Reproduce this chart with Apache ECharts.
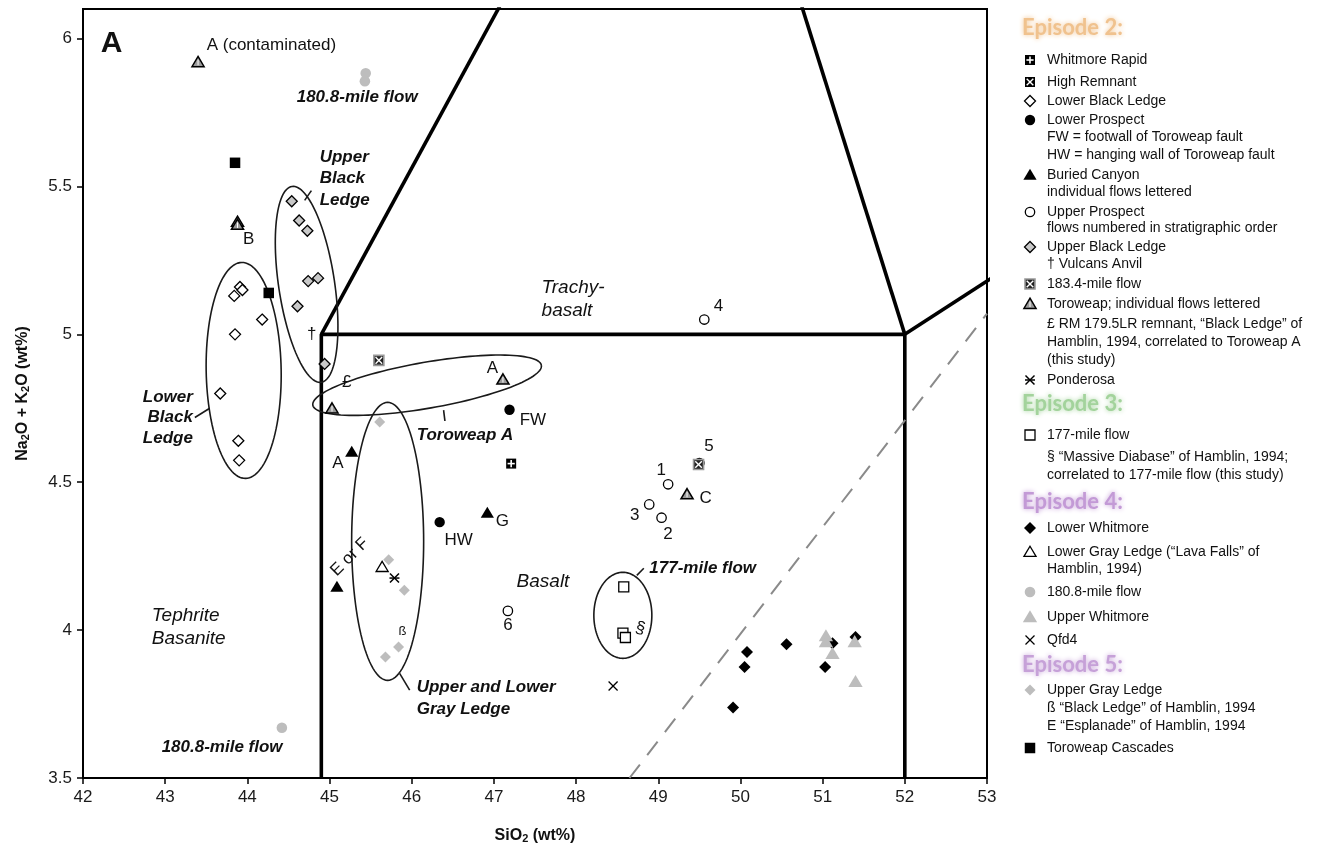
<!DOCTYPE html>
<html><head><meta charset="utf-8">
<script src="https://cdn.jsdelivr.net/npm/echarts@6/dist/echarts.min.js"></script>
<style>html,body{margin:0;padding:0;background:#fff}#c{width:1324px;height:857px}</style>
</head><body><div id="c"></div>
<script>
// ---------------- DATA (SiO2 wt%, Na2O+K2O wt%) ----------------
const xTicks = [42,43,44,45,46,47,48,49,50,51,52,53];
const yTicks = [3.5,4,4.5,5,5.5,6];

const whitmoreRapid   = [[47.21,4.563]];
const highRemnant     = [[49.49,4.56]];
const lowerBlackLedge = [[43.91,5.16],[43.94,5.15],[43.84,5.13],[44.18,5.05],[43.85,5.00],[43.67,4.80],[43.89,4.64],[43.90,4.574]];
const lowerProspect   = [[47.19,4.745],[46.34,4.365]];
const buriedCanyon    = [[45.27,4.602],[46.92,4.396],[45.09,4.146]];
const upperProspect   = [[49.12,4.493],[49.04,4.380],[48.89,4.425],[49.56,5.05],[49.50,4.565],[47.17,4.065]];
const upperBlackLedge = [[44.54,5.45],[44.63,5.385],[44.73,5.35],[44.74,5.18],[44.86,5.19],[44.61,5.095],[44.94,4.90]];
const mile1834        = [[45.60,4.912],[49.49,4.56]];
const toroweap        = [[43.40,5.92],[43.88,5.38],[43.88,5.37],[47.11,4.847],[45.03,4.749],[49.35,4.459]];
const ponderosa       = [[45.79,4.176]];
const mile177         = [[48.58,4.146],[48.57,3.99],[48.60,3.975]];
const lowerWhitmore   = [[50.08,3.926],[50.05,3.875],[49.91,3.738],[50.56,3.952],[51.03,3.875],[51.12,3.956],[51.40,3.977]];
const lowerGrayLedge  = [[45.64,4.213]];
const mile1808        = [[45.44,5.883],[45.43,5.856],[44.42,3.67]];
const upperWhitmore   = [[51.04,3.98],[51.04,3.96],[51.12,3.92],[51.39,3.96],[51.40,3.825]];
const qfd4            = [[48.45,3.811]];
const upperGrayLedge  = [[45.61,4.704],[45.72,4.238],[45.91,4.135],[45.84,3.943],[45.68,3.909]];
const toroweapCascades= [[43.85,5.58],[44.26,5.14]];

// TAS field boundaries (clipped by the axes)
const tasBasaltBox   = [[44.9,3.5],[44.9,5.0],[52,5.0],[52,3.5]];
const tasTrachyLeft  = [[44.9,5.0],[49.4,7.3]];
const tasTrachyRight = [[52,5.0],[49.4,7.3]];
const tasUpperRight  = [[52,5.0],[57,5.9]];
const alkalineLine   = [[48.65,3.5],[53,5.07]];

// ---------------- ANNOTATIONS (layout) ----------------
const ellipses = [
  {c:[43.955,4.878], a:37.5, b:108, ang:-1},
  {c:[44.721,5.169], a:28,   b:99,  ang:-8.5},
  {c:[46.187,4.828], a:116,  b:23,  ang:-9.9},
  {c:[45.707,4.300], a:36,   b:139, ang:0},
  {c:[48.569,4.050], a:29,   b:43,  ang:0}
];
const leaders = [
  [[43.361,4.719],[43.542,4.750]],
  [[44.697,5.453],[44.779,5.486]],
  [[46.388,4.744],[46.404,4.707]],
  [[45.853,3.854],[45.975,3.797]],
  [[48.739,4.185],[48.824,4.209]]
];
const RG = 'italic 19px "Liberation Sans", Arial, sans-serif';
const BI = 'italic bold 17px "Liberation Sans", Arial, sans-serif';
const PL = '17px "Liberation Sans", Arial, sans-serif';
const annots = [
  {t:'A', x:42.215, y:5.984, f:'bold 30px "Liberation Sans", Arial, sans-serif'},
  {t:'A (contaminated)', x:43.505, y:5.977, f:PL},
  {t:'Trachy-', x:47.58, y:5.156, f:RG},
  {t:'basalt', x:47.58, y:5.081, f:RG},
  {t:'Basalt', x:47.276, y:4.162, f:RG},
  {t:'Tephrite', x:42.836, y:4.050, f:RG},
  {t:'Basanite', x:42.836, y:3.972, f:RG},
  {t:'180.8-mile flow', x:44.60, y:5.801, f:BI},
  {t:'180.8-mile flow', x:42.957, y:3.604, f:BI},
  {t:'Upper', x:44.88, y:5.598, f:BI},
  {t:'Black', x:44.88, y:5.527, f:BI},
  {t:'Ledge', x:44.88, y:5.453, f:BI},
  {t:'Lower', x:43.337, y:4.787, f:BI, al:'right'},
  {t:'Black', x:43.337, y:4.719, f:BI, al:'right'},
  {t:'Ledge', x:43.337, y:4.648, f:BI, al:'right'},
  {t:'Toroweap A', x:46.06, y:4.659, f:BI},
  {t:'Upper and Lower', x:46.06, y:3.807, f:BI},
  {t:'Gray Ledge', x:46.06, y:3.732, f:BI},
  {t:'177-mile flow', x:48.891, y:4.209, f:BI},
  {t:'B', x:44.016, y:5.321, f:PL, al:'center'},
  {t:'†', x:44.782, y:5.0, f:PL, al:'center'},
  {t:'£', x:45.208, y:4.839, f:PL, al:'center'},
  {t:'A', x:46.981, y:4.884, f:PL, al:'center'},
  {t:'FW', x:47.475, y:4.709, f:PL, al:'center'},
  {t:'A', x:45.102, y:4.565, f:PL, al:'center'},
  {t:'HW', x:46.571, y:4.304, f:PL, al:'center'},
  {t:'G', x:47.102, y:4.368, f:PL, al:'center'},
  {t:'5', x:49.616, y:4.621, f:PL, al:'center'},
  {t:'1', x:49.036, y:4.540, f:PL, al:'center'},
  {t:'C', x:49.575, y:4.447, f:PL, al:'center'},
  {t:'3', x:48.712, y:4.388, f:PL, al:'center'},
  {t:'2', x:49.117, y:4.324, f:PL, al:'center'},
  {t:'6', x:47.170, y:4.016, f:PL, al:'center'},
  {t:'4', x:49.734, y:5.095, f:PL, al:'center'},
  {t:'§', x:48.781, y:4.006, f:PL, al:'center', rot:-15},
  {t:'ß', x:45.886, y:3.994, f:'13px "Liberation Sans", Arial, sans-serif', al:'center'},
  {t:'E or F', x:45.245, y:4.247, f:PL, al:'center', rot:45}
];

// ---------------- MARKERS ----------------
const K = '#000', G = '#bdbdbd';
function dia(x,y,s){const h=s/2;return [[x,y-h],[x+h,y],[x,y+h],[x-h,y]];}
function tri(x,y,s){const h=s/2;return [[x,y-h*1.05],[x+h*1.1,y+h*0.8],[x-h*1.1,y+h*0.8]];}
function sq(x,y,s){return {x:x-s/2,y:y-s/2,width:s,height:s};}
function ln(x1,y1,x2,y2,c,w){return {type:'line',shape:{x1,y1,x2,y2},style:{stroke:c,lineWidth:w}};}
function marker(t,x,y){
  switch(t){
    case 'circleB': return {type:'circle',shape:{cx:x,cy:y,r:5.2},style:{fill:K}};
    case 'circleW': return {type:'circle',shape:{cx:x,cy:y,r:4.7},style:{fill:'#fff',stroke:K,lineWidth:1.3}};
    case 'circleG': return {type:'circle',shape:{cx:x,cy:y,r:5.3},style:{fill:G}};
    case 'diamondW': return {type:'polygon',shape:{points:dia(x,y,11)},style:{fill:'#fff',stroke:K,lineWidth:1.3}};
    case 'diamondG': return {type:'polygon',shape:{points:dia(x,y,11)},style:{fill:'#c8c8c8',stroke:K,lineWidth:1.3}};
    case 'diamondB': return {type:'polygon',shape:{points:dia(x,y,12)},style:{fill:K}};
    case 'diamondL': return {type:'polygon',shape:{points:dia(x,y,11)},style:{fill:G}};
    case 'triB': return {type:'polygon',shape:{points:tri(x,y,12)},style:{fill:K}};
    case 'triW': return {type:'polygon',shape:{points:tri(x,y,11)},style:{fill:'#fff',stroke:K,lineWidth:1.3}};
    case 'triG': return {type:'polygon',shape:{points:tri(x,y,13)},style:{fill:G}};
    case 'triT': return {type:'group',children:[
        {type:'polygon',shape:{points:tri(x,y,11)},style:{fill:'#9a9a9a',stroke:K,lineWidth:1.5}},
        ln(x,y-2.5,x,y+3,'#fff',1)]};
    case 'sqB': return {type:'rect',shape:sq(x,y,10.5),style:{fill:K}};
    case 'sqW': return {type:'rect',shape:sq(x,y,10),style:{fill:'#fff',stroke:K,lineWidth:1.3}};
    case 'sqPlus': return {type:'group',children:[
        {type:'rect',shape:sq(x,y,10),style:{fill:K}},
        {type:'rect',shape:{x:x-3.6,y:y-0.8,width:7.2,height:1.6},style:{fill:'#fff'}},
        {type:'rect',shape:{x:x-0.8,y:y-3.6,width:1.6,height:7.2},style:{fill:'#fff'}}]};
    case 'sqX': return {type:'group',children:[
        {type:'rect',shape:sq(x,y,10),style:{fill:K}},
        ln(x-3.3,y-3.3,x+3.3,y+3.3,'#fff',1.4), ln(x-3.3,y+3.3,x+3.3,y-3.3,'#fff',1.4)]};
    case 'sqXG': return {type:'group',children:[
        {type:'rect',shape:sq(x,y,10),style:{fill:'#222',stroke:'#999',lineWidth:1.6}},
        ln(x-3.3,y-3.3,x+3.3,y+3.3,'#fff',1.4), ln(x-3.3,y+3.3,x+3.3,y-3.3,'#fff',1.4)]};
    case 'cross': return {type:'group',children:[
        ln(x-4.5,y-4.5,x+4.5,y+4.5,K,1.3), ln(x-4.5,y+4.5,x+4.5,y-4.5,K,1.3)]};
    case 'aster': return {type:'group',children:[
        ln(x-4.5,y-4.5,x+4.5,y+4.5,K,1.5), ln(x-4.5,y+4.5,x+4.5,y-4.5,K,1.5), ln(x-5,y,x+5,y,K,1.5)]};
  }
}

const groups = [
  ['Whitmore Rapid', whitmoreRapid, 'sqPlus'],
  ['High Remnant', highRemnant, 'sqX'],
  ['Lower Black Ledge', lowerBlackLedge, 'diamondW'],
  ['Lower Prospect', lowerProspect, 'circleB'],
  ['Buried Canyon', buriedCanyon, 'triB'],
  ['Upper Prospect', upperProspect, 'circleW'],
  ['Upper Black Ledge', upperBlackLedge, 'diamondG'],
  ['183.4-mile flow', mile1834, 'sqXG'],
  ['Toroweap', toroweap, 'triT'],
  ['Ponderosa', ponderosa, 'aster'],
  ['177-mile flow', mile177, 'sqW'],
  ['Lower Whitmore', lowerWhitmore, 'diamondB'],
  ['Lower Gray Ledge', lowerGrayLedge, 'triW'],
  ['180.8-mile flow', mile1808, 'circleG'],
  ['Upper Whitmore', upperWhitmore, 'triG'],
  ['Qfd4', qfd4, 'cross'],
  ['Upper Gray Ledge', upperGrayLedge, 'diamondL'],
  ['Toroweap Cascades', toroweapCascades, 'sqB']
];

// ---------------- LEGEND (graphic, pixel layout) ----------------
const LX = 1030, TX = 1047;
const LF = '14px "Liberation Sans", Arial, sans-serif';
const legendRows = [
  {h:'Episode 2:', c:'#f0c28e', y:28},
  {m:'sqPlus', t:'Whitmore Rapid', y:60},
  {m:'sqX', t:'High Remnant', y:82},
  {m:'diamondW', t:'Lower Black Ledge', y:101},
  {m:'circleB', t:'Lower Prospect', y:120},
  {t:'FW = footwall of Toroweap fault', y:137},
  {t:'HW = hanging wall of Toroweap fault', y:155},
  {m:'triB', t:'Buried Canyon', y:175},
  {t:'individual flows lettered', y:192},
  {m:'circleW', t:'Upper Prospect', y:212},
  {t:'flows numbered in stratigraphic order', y:228},
  {m:'diamondG', t:'Upper Black Ledge', y:247},
  {t:'† Vulcans Anvil', y:264},
  {m:'sqXG', t:'183.4-mile flow', y:284},
  {m:'triT', t:'Toroweap; individual flows lettered', y:304},
  {t:'£ RM 179.5LR remnant, \u201cBlack Ledge\u201d of', y:324},
  {t:'Hamblin, 1994, correlated to Toroweap A', y:342},
  {t:'(this study)', y:360},
  {m:'aster', t:'Ponderosa', y:380},
  {h:'Episode 3:', c:'#a3d39c', y:404},
  {m:'sqW', t:'177-mile flow', y:435},
  {t:'§ \u201cMassive Diabase\u201d of Hamblin, 1994;', y:457},
  {t:'correlated to 177-mile flow (this study)', y:475},
  {h:'Episode 4:', c:'#c39ad6', y:502},
  {m:'diamondB', t:'Lower Whitmore', y:528},
  {m:'triW', t:'Lower Gray Ledge (\u201cLava Falls\u201d of', y:552},
  {t:'Hamblin, 1994)', y:569},
  {m:'circleG', t:'180.8-mile flow', y:592},
  {m:'triG', t:'Upper Whitmore', y:617},
  {m:'cross', t:'Qfd4', y:640},
  {h:'Episode 5:', c:'#c6a1d8', y:665},
  {m:'diamondL', t:'Upper Gray Ledge', y:690},
  {t:'ß \u201cBlack Ledge\u201d of Hamblin, 1994', y:708},
  {t:'E \u201cEsplanade\u201d of Hamblin, 1994', y:726},
  {m:'sqB', t:'Toroweap Cascades', y:748}
];
const legendEls = [];
legendRows.forEach(r => {
  if (r.h) {
    legendEls.push({type:'text', x:LX-8, y:r.y, style:{text:r.h, font:'bold 22px Lato, "Open Sans", sans-serif',
      fill:r.c, textShadowColor:r.c, textShadowBlur:5, align:'left', verticalAlign:'middle', textAlign:'left', textVerticalAlign:'middle'}});
  } else {
    if (r.m) legendEls.push(marker(r.m, LX, r.y));
    legendEls.push({type:'text', x:TX, y:r.y, style:{text:r.t, font:LF, fill:'#111',
      align:'left', verticalAlign:'middle', textAlign:'left', textVerticalAlign:'middle'}});
  }
});

// ---------------- CHART ----------------
const chart = echarts.init(document.getElementById('c'), null, {renderer:'canvas'});
const lineS = (data, extra) => Object.assign({type:'line', data, symbol:'none', silent:true, clip:true,
  animation:false, lineStyle:{color:'#000', width:3.6}, z:2}, extra||{});

const series = [
  lineS(tasBasaltBox), lineS(tasTrachyLeft), lineS(tasTrachyRight), lineS(tasUpperRight),
  lineS(alkalineLine, {lineStyle:{color:'#8a8a8a', width:2, type:[17,12]}}),
  {type:'custom', silent:true, animation:false, z:3, data: ellipses.map(e=>e.c),
   renderItem:(p, api) => {
     const e = ellipses[p.dataIndex];
     const c = api.coord([api.value(0), api.value(1)]);
     const ph = e.ang*Math.PI/180, pts = [];
     for (let i=0;i<=120;i++){ const t=i/120*2*Math.PI;
       const u=e.a*Math.cos(t), v=e.b*Math.sin(t);
       pts.push([c[0]+u*Math.cos(ph)-v*Math.sin(ph), c[1]+u*Math.sin(ph)+v*Math.cos(ph)]); }
     return {type:'polyline', shape:{points:pts}, style:{fill:null, stroke:'#1a1a1a', lineWidth:1.6}};
   }},
  {type:'custom', silent:true, animation:false, z:3, data: leaders.map(l=>[l[0][0],l[0][1],l[1][0],l[1][1]]),
   renderItem:(p, api) => {
     const a = api.coord([api.value(0), api.value(1)]), b = api.coord([api.value(2), api.value(3)]);
     return ln(a[0],a[1],b[0],b[1],'#1a1a1a',1.6);
   }},
  {type:'custom', silent:true, animation:false, z:6, data: annots.map(a=>[a.x,a.y]),
   renderItem:(p, api) => {
     const a = annots[p.dataIndex];
     const c = api.coord([api.value(0), api.value(1)]);
     return {type:'text', x:c[0], y:c[1], rotation:(a.rot||0)*Math.PI/180,
       style:{text:a.t, font:a.f, fill:'#111', align:a.al||'left', verticalAlign:'middle',
              textAlign:a.al||'left', textVerticalAlign:'middle'}};
   }}
];
groups.forEach(g => {
  series.push({type:'custom', name:g[0], silent:true, animation:false, z:5, data:g[1],
    renderItem:(p, api) => { const c = api.coord([api.value(0), api.value(1)]); return marker(g[2], c[0], c[1]); }});
});

const axisCommon = {
  axisLine:{show:true, onZero:false, lineStyle:{color:'#000', width:2}},
  axisTick:{show:true, inside:false, length:6, lineStyle:{color:'#000', width:1.5}},
  splitLine:{show:false},
  axisLabel:{color:'#1a1a1a', fontSize:17, fontFamily:'"Liberation Sans", Arial, sans-serif', margin:11},
  nameLocation:'middle'
};
const rich = {
  a:{fontSize:16, fontWeight:'bold', fontFamily:'"Liberation Sans", Arial, sans-serif', color:'#111', lineHeight:20, verticalAlign:'bottom'},
  s:{fontSize:11, fontWeight:'bold', fontFamily:'"Liberation Sans", Arial, sans-serif', color:'#111', lineHeight:9, verticalAlign:'bottom'}
};
chart.setOption({
  animation:false,
  backgroundColor:'#fff',
  grid:{left:83, top:9, width:904, height:769, show:true, borderColor:'#000', borderWidth:2, backgroundColor:'transparent'},
  xAxis:Object.assign({}, axisCommon, {type:'value', min:42, max:53, interval:1,
    axisTick:Object.assign({}, axisCommon.axisTick, {customValues:xTicks}),
    axisLabel:Object.assign({}, axisCommon.axisLabel, {customValues:xTicks}),
    name:'{a|SiO}{s|2}{a| (wt%)}', nameGap:46, nameTextStyle:{rich}}),
  yAxis:Object.assign({}, axisCommon, {type:'value', min:3.5, max:6.1, interval:0.5,
    axisTick:Object.assign({}, axisCommon.axisTick, {customValues:yTicks}),
    axisLabel:Object.assign({}, axisCommon.axisLabel, {customValues:yTicks}),
    name:'{a|Na}{s|2}{a|O + K}{s|2}{a|O (wt%)}', nameGap:52, nameTextStyle:{rich}}),
  graphic:{elements:legendEls},
  series
});
</script></body></html>
